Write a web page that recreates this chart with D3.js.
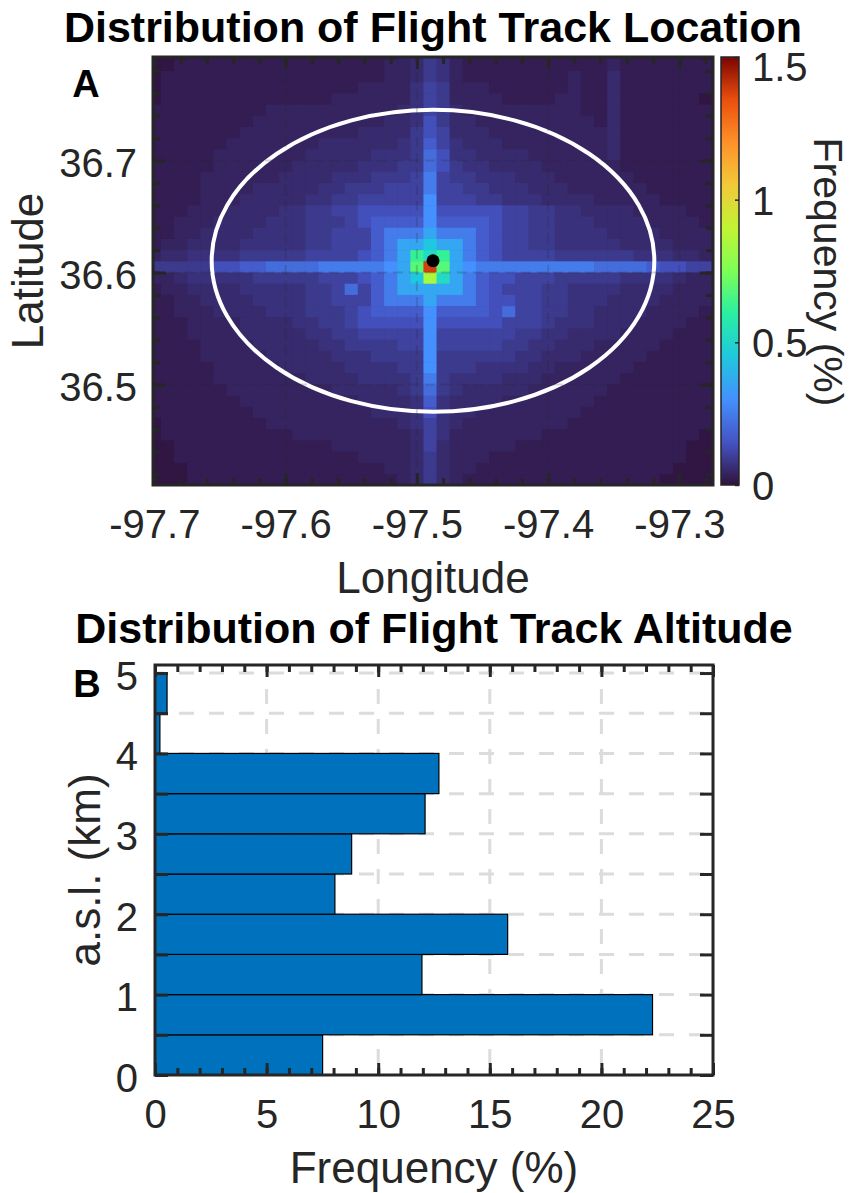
<!DOCTYPE html>
<html>
<head>
<meta charset="utf-8">
<script src="https://cdn.jsdelivr.net/npm/d3@7"></script>
<style>
  body { margin: 0; background: #fff; }
</style>
</head>
<body>
<svg></svg>
<script>
var width = 854;
var height = 1193;

// ---- panel A: gridded track frequency (%), 0.01 deg bins, rows from north to south
var lonEdge0 = -97.705;
var latEdge0 = 36.80;
var binSize = 0.01;
var levelChars  = "0123456789abcdefghi";
var levelValues = [0.01, 0.025, 0.04, 0.055, 0.07, 0.09, 0.11, 0.14, 0.17, 0.21,
                   0.25, 0.30, 0.36, 0.45, 0.52, 0.62, 0.68, 0.85, 1.38];
var heatRows = [
  "0001111111 1111111112 354 2111111111 1121111110",
  "0011111111 1111111122 354 2111111111 1121111111",
  "0111111111 1111111122 354 2111111112 1131111111",
  "0111111111 1111112222 465 2221111112 1131111111",
  "0111111111 1111222222 465 2222111122 1131111110",
  "1111111112 2222222223 465 3222222222 1131111111",
  "1111111122 2222222233 475 3322222222 2131111111",
  "1111111222 2222223333 576 3332222222 2231111111",
  "1111112222 2223333334 586 4333222222 2231111111",
  "1111122222 2233333444 597 4433332222 2231111111",
  "1111122222 2333334445 597 5443333222 2221111111",
  "1111222222 3333444555 6a6 5544433322 2222111111",
  "1111222233 3334455566 6a6 6554443332 2222211111",
  "1111222333 3344556666 6b6 6655444333 3222221111",
  "1112223333 4455667777 7b7 7777665544 3333222211",
  "1122233334 4455567888 8b8 8887665544 4333322221",
  "1122333344 44556668aa aca aa87665544 4433332222",
  "1223333444 44556668ac cdc ca87665544 4443333222",
  "2334444555 55666678ac fef ca87666655 5555444332",
  "5555577889 999aaaaabc gig cbaaaaaaaa a999987766",
  "2234444455 55566678ac dhe ca87766655 5554444322",
  "1223333444 44556968ac ccc ca87666554 4443333222",
  "1122333344 44556668aa aca aa87766554 4433332222",
  "1122233334 4455567888 8b8 8887966554 4333322221",
  "1112222333 3445567777 7b7 7777666544 4333222211",
  "1112222333 3344556666 6b6 6666655443 3332222111",
  "1111222233 3334455556 6b6 6666554433 3222221111",
  "1111222223 3333444555 5b5 5555544333 2222211111",
  "1111122222 3333344445 5b5 5544443322 2222111111",
  "1111122222 2233334444 5a5 4444333222 2221111111",
  "1111112222 2222333334 595 4333332222 2211111111",
  "1111111222 2222223333 484 3333222222 2111111111",
  "1111111122 2222222333 474 3322222222 1111111111",
  "0111111112 2222222223 464 3222222221 1111111111",
  "0111111111 1222222222 364 2222222111 1111111110",
  "0011111111 1111222222 363 2222211111 1111111100",
  "0011111111 1111112222 353 2221111111 1111111100",
  "0001111111 1111111122 353 2211111111 1111111000",
  "0001111111 1111111112 353 2111111111 1111110000"
];
var lonTicks = [-97.7, -97.6, -97.5, -97.4, -97.3];
var latTicks = [36.5, 36.6, 36.7];
var cbarTicks = [0, 0.5, 1, 1.5];
var cbarMax = 1.5;
var site = [-97.4877, 36.6105];         // lon, lat of the marked site
var ringRadius = [0.1686, 0.1348];      // 15 km ring in deg lon, deg lat

// ---- panel B: altitude histogram
var altBinStart = [0, 0.5, 1, 1.5, 2, 2.5, 3, 3.5, 4, 4.5];
var altFreq     = [7.51, 22.29, 11.96, 15.80, 8.06, 8.81, 12.10, 12.72, 0.22, 0.54];
var freqTicks = [0, 5, 10, 15, 20, 25];
var altTicks  = [0, 0.5, 1, 1.5, 2, 2.5, 3, 3.5, 4, 4.5, 5];

var font = '"Liberation Sans", Arial, Helvetica, sans-serif';
var axisColor = '#262626';
var turbo = ['#30123b', '#4454c4', '#4490fe', '#1fc8de', '#29efa2', '#7dff56',
             '#c1f334', '#f1ca3a', '#fe922a', '#ea4f0d', '#7a0403'];

var svg = d3.select('svg')
    .attr('width', width)
    .attr('height', height)
    .style('font-family', font);

svg.append('rect').attr('width', width).attr('height', height).attr('fill', '#fff');

var color = d3.scaleLinear()
    .domain(turbo.map(function(c, k) { return k * cbarMax / (turbo.length - 1); }))
    .range(turbo)
    .clamp(true);

// axis helper: ticks only, domain line removed (box drawn separately)
function addAxis(g, axisFn, scale, values, size, fmt, tx, ty) {
    var ax = axisFn(scale).tickValues(values).tickSize(size).tickSizeOuter(0)
        .tickFormat(fmt || function() { return ''; });
    var a = g.append('g').attr('transform', 'translate(' + tx + ',' + ty + ')').call(ax);
    a.select('.domain').remove();
    a.selectAll('line').attr('stroke', axisColor).attr('stroke-width', 3);
    a.selectAll('text').attr('fill', axisColor).attr('font-size', 40).attr('font-family', font);
    return a;
}

function minorTicks(lo, hi, step) {
    var out = [];
    for (var v = lo; v <= hi + 1e-9; v += step) out.push(+v.toFixed(4));
    return out;
}

// =================== Panel A ===================
var xA = d3.scaleLinear().domain([-97.7010, -97.2744]).range([153, 713]);
var yA = d3.scaleLinear().domain([36.4103, 36.7924]).range([485, 57]);
var gA = svg.append('g');

svg.append('clipPath').attr('id', 'clipA').append('rect')
    .attr('x', 153).attr('y', 57).attr('width', 560).attr('height', 428);

gA.append('rect').attr('x', 153).attr('y', 57).attr('width', 560).attr('height', 428)
    .attr('fill', color(levelValues[1]));

var cells = [];
heatRows.forEach(function(row, i) {
    row.replace(/ /g, '').split('').forEach(function(ch, j) {
        cells.push({ i: i, j: j, v: levelValues[levelChars.indexOf(ch)] });
    });
});

gA.append('g').attr('clip-path', 'url(#clipA)')
    .selectAll('rect').data(cells).join('rect')
    .attr('x', function(d) { return xA(lonEdge0 + d.j * binSize); })
    .attr('width', function(d) { return xA(lonEdge0 + (d.j + 1) * binSize) - xA(lonEdge0 + d.j * binSize) + 0.6; })
    .attr('y', function(d) { return yA(latEdge0 - d.i * binSize); })
    .attr('height', function(d) { return yA(latEdge0 - (d.i + 1) * binSize) - yA(latEdge0 - d.i * binSize) + 0.6; })
    .attr('fill', function(d) { return color(d.v); });

// 15 km ring and site
gA.append('ellipse')
    .attr('cx', xA(site[0])).attr('cy', yA(site[1]))
    .attr('rx', xA(site[0] + ringRadius[0]) - xA(site[0]))
    .attr('ry', yA(site[1]) - yA(site[1] + ringRadius[1]))
    .attr('fill', 'none').attr('stroke', '#fff').attr('stroke-width', 4);

// grid on top
var gridA = gA.append('g').attr('clip-path', 'url(#clipA)')
    .attr('stroke', 'rgba(38,38,38,0.2)').attr('stroke-width', 2).attr('stroke-dasharray', '10,6');
gridA.selectAll('.gx').data(lonTicks).join('line')
    .attr('x1', function(d) { return xA(d); }).attr('x2', function(d) { return xA(d); })
    .attr('y1', 57).attr('y2', 485);
gridA.selectAll('.gy').data(latTicks).join('line')
    .attr('y1', function(d) { return yA(d); }).attr('y2', function(d) { return yA(d); })
    .attr('x1', 153).attr('x2', 713);

gA.append('circle').attr('cx', xA(site[0])).attr('cy', yA(site[1])).attr('r', 6.5).attr('fill', '#000');

var lonMinor = minorTicks(-97.68, -97.28, 0.02);
var latMinor = minorTicks(36.42, 36.78, 0.02);
var bx = addAxis(gA, d3.axisBottom, xA, lonTicks, -12, function(d) { return d.toFixed(1); }, 0, 485);
bx.selectAll('text').attr('y', 53).attr('dy', null);
addAxis(gA, d3.axisBottom, xA, lonMinor, -7, null, 0, 485);
addAxis(gA, d3.axisTop, xA, lonTicks, -12, null, 0, 57);
addAxis(gA, d3.axisTop, xA, lonMinor, -7, null, 0, 57);
var ly = addAxis(gA, d3.axisLeft, yA, latTicks, -13, function(d) { return d.toFixed(1); }, 153, 0);
ly.selectAll('text').attr('x', -16).attr('dy', '0.4em');
addAxis(gA, d3.axisLeft, yA, latMinor, -7, null, 153, 0);
addAxis(gA, d3.axisRight, yA, latTicks, -13, null, 713, 0);
addAxis(gA, d3.axisRight, yA, latMinor, -7, null, 713, 0);

gA.append('rect').attr('x', 153).attr('y', 57).attr('width', 560).attr('height', 428)
    .attr('fill', 'none').attr('stroke', axisColor).attr('stroke-width', 3);

// colorbar
var cScale = d3.scaleLinear().domain([0, cbarMax]).range([485, 57]);
var grad = svg.append('defs').append('linearGradient').attr('id', 'cbarGrad')
    .attr('x1', 0).attr('y1', 1).attr('x2', 0).attr('y2', 0);
grad.selectAll('stop').data(turbo).join('stop')
    .attr('offset', function(d, k) { return k / (turbo.length - 1); })
    .attr('stop-color', function(d) { return d; });
gA.append('rect').attr('x', 721).attr('y', 57).attr('width', 18).attr('height', 428)
    .attr('fill', 'url(#cbarGrad)').attr('stroke', axisColor).attr('stroke-width', 1.5);
var cb = addAxis(gA, d3.axisRight, cScale, cbarTicks, -4, function(d) { return String(d); }, 739, 0);
cb.selectAll('line').attr('stroke-width', 1.5);
cb.selectAll('text').attr('x', 13).attr('dy', '0.36em')
    .attr('transform', function(d) { return d === cbarMax ? 'translate(0,9)' : null; });

gA.append('text').text('Frequency (%)')
    .attr('transform', 'translate(814,272) rotate(90)')
    .attr('text-anchor', 'middle').attr('font-size', 41).attr('fill', axisColor);

gA.append('text').text('Longitude').attr('x', 433).attr('y', 593)
    .attr('text-anchor', 'middle').attr('font-size', 44).attr('fill', axisColor);
gA.append('text').text('Latitude')
    .attr('transform', 'translate(43,271) rotate(-90)')
    .attr('text-anchor', 'middle').attr('font-size', 44).attr('fill', axisColor);
gA.append('text').text('Distribution of Flight Track Location').attr('x', 433).attr('y', 42)
    .attr('text-anchor', 'middle').attr('font-size', 43).attr('font-weight', 'bold').attr('fill', '#000');
gA.append('text').text('A').attr('x', 86).attr('y', 97)
    .attr('text-anchor', 'middle').attr('font-size', 38).attr('font-weight', 'bold').attr('fill', '#000');

// =================== Panel B ===================
var xB = d3.scaleLinear().domain([0, 25]).range([155, 713]);
var yB = d3.scaleLinear().domain([0, 5.1]).range([1075, 665]);
var gB = svg.append('g');

var gridB = gB.append('g').attr('stroke', '#dcdcdc').attr('stroke-width', 3)
    .attr('stroke-dasharray', '15,15');
gridB.selectAll('.gx').data(freqTicks.slice(1, -1)).join('line')
    .attr('x1', function(d) { return xB(d); }).attr('x2', function(d) { return xB(d); })
    .attr('y1', yB(5.1)).attr('y2', yB(0)).attr('stroke-dashoffset', 6);
gridB.selectAll('.gy').data(altTicks.slice(1)).join('line')
    .attr('y1', function(d) { return yB(d); }).attr('y2', function(d) { return yB(d); })
    .attr('x1', xB(0)).attr('x2', xB(25)).attr('stroke-dashoffset', 6);

gB.append('g').selectAll('rect').data(altBinStart).join('rect')
    .attr('x', xB(0))
    .attr('y', function(d) { return yB(d + 0.5); })
    .attr('width', function(d, k) { return xB(altFreq[k]) - xB(0); })
    .attr('height', function(d) { return yB(d) - yB(d + 0.5); })
    .attr('fill', '#0072bd').attr('stroke', '#000').attr('stroke-width', 1.2);

var freqMinor = minorTicks(1, 24, 1);
var bbx = addAxis(gB, d3.axisBottom, xB, freqTicks, -12, function(d) { return String(d); }, 0, 1075);
bbx.selectAll('text').attr('y', 53).attr('dy', null);
addAxis(gB, d3.axisBottom, xB, freqMinor, -7, null, 0, 1075);
addAxis(gB, d3.axisTop, xB, freqTicks, -12, null, 0, 665);
addAxis(gB, d3.axisTop, xB, freqMinor, -7, null, 0, 665);
var bly = addAxis(gB, d3.axisLeft, yB, altTicks, -13,
    function(d) { return Number.isInteger(d) ? String(d) : ''; }, 155, 0);
bly.selectAll('text').attr('x', -17).attr('dy', '0.4em');
addAxis(gB, d3.axisRight, yB, altTicks, -13, null, 713, 0);

gB.append('rect').attr('x', 155).attr('y', 665).attr('width', 558).attr('height', 410)
    .attr('fill', 'none').attr('stroke', axisColor).attr('stroke-width', 3);

gB.append('text').text('Frequency (%)').attr('x', 434).attr('y', 1183)
    .attr('text-anchor', 'middle').attr('font-size', 44).attr('fill', axisColor);
gB.append('text').text('a.s.l. (km)')
    .attr('transform', 'translate(100,870) rotate(-90)')
    .attr('text-anchor', 'middle').attr('font-size', 44).attr('fill', axisColor);
gB.append('text').text('Distribution of Flight Track Altitude').attr('x', 434).attr('y', 643)
    .attr('text-anchor', 'middle').attr('font-size', 43).attr('font-weight', 'bold').attr('fill', '#000');
gB.append('text').text('B').attr('x', 87).attr('y', 697)
    .attr('text-anchor', 'middle').attr('font-size', 38).attr('font-weight', 'bold').attr('fill', '#000');
</script>
</body>
</html>
